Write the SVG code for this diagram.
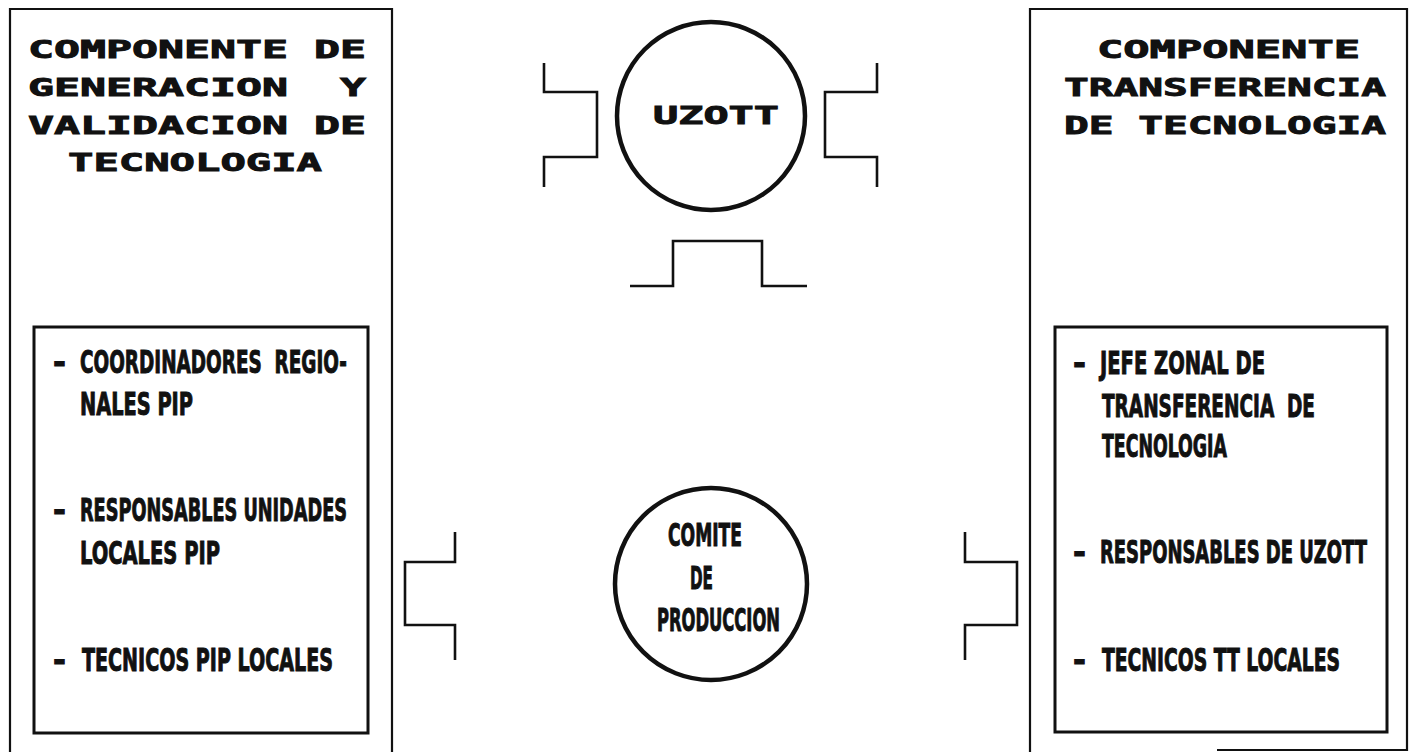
<svg xmlns="http://www.w3.org/2000/svg" width="1416" height="752" viewBox="0 0 1416 752">
<style>
.bg{fill:#fff}
.outer{fill:none;stroke:#111;stroke-width:2.2}
.inner{fill:none;stroke:#111;stroke-width:3}
.circ{fill:none;stroke:#111;stroke-width:4.5}
.conn{fill:none;stroke:#111;stroke-width:2.6}
.hd{font-family:"DejaVu Sans Mono","Liberation Mono",monospace;font-weight:bold;font-size:25px;fill:#111;stroke:#111;stroke-width:0.9;white-space:pre}
.bd{font-family:"Liberation Sans Narrow","DejaVu Sans Condensed","Liberation Sans",sans-serif;font-weight:bold;font-size:23px;fill:#111;stroke:#111;stroke-width:0.7;white-space:pre}
</style>
<rect class="bg" x="0" y="0" width="1416" height="752"/>
<g id="gen-validacion">
<path class="outer" d="M10,752 V9 H392 V752"/>
<text class="hd" x="28" y="58" textLength="338" lengthAdjust="spacingAndGlyphs">COMPONENTE DE</text>
<text class="hd" x="28" y="96" textLength="338" lengthAdjust="spacingAndGlyphs" xml:space="preserve">GENERACION  Y</text>
<text class="hd" x="28" y="134" textLength="338" lengthAdjust="spacingAndGlyphs">VALIDACION DE</text>
<text class="hd" x="68" y="171" textLength="254" lengthAdjust="spacingAndGlyphs">TECNOLOGIA</text>
</g>
<g id="gen-lista">
<rect class="inner" x="34" y="327" width="334" height="406"/>
<text class="bd" transform="translate(53,373) scale(1.5,1.39)">-</text>
<text class="bd" transform="translate(80,373) scale(1,1.39)" textLength="267" lengthAdjust="spacingAndGlyphs" xml:space="preserve">COORDINADORES  REGIO-</text>
<text class="bd" transform="translate(80,415) scale(1,1.39)" textLength="113" lengthAdjust="spacingAndGlyphs">NALES PIP</text>
<text class="bd" transform="translate(53,521) scale(1.5,1.39)">-</text>
<text class="bd" transform="translate(80,521) scale(1,1.39)" textLength="267" lengthAdjust="spacingAndGlyphs">RESPONSABLES UNIDADES</text>
<text class="bd" transform="translate(80,564) scale(1,1.39)" textLength="140" lengthAdjust="spacingAndGlyphs">LOCALES PIP</text>
<text class="bd" transform="translate(53,671) scale(1.5,1.39)">-</text>
<text class="bd" transform="translate(82,671) scale(1,1.39)" textLength="251" lengthAdjust="spacingAndGlyphs">TECNICOS PIP LOCALES</text>
</g>
<g id="transferencia">
<path class="outer" d="M1030,752 V9 H1407 V750 H1217"/>
<text class="hd" x="1097" y="58" textLength="263" lengthAdjust="spacingAndGlyphs">COMPONENTE</text>
<text class="hd" x="1064" y="96" textLength="322" lengthAdjust="spacingAndGlyphs">TRANSFERENCIA</text>
<text class="hd" x="1064" y="134" textLength="322" lengthAdjust="spacingAndGlyphs">DE TECNOLOGIA</text>
</g>
<g id="tt-lista">
<rect class="inner" x="1055" y="327" width="332" height="405"/>
<text class="bd" transform="translate(1073,374) scale(1.5,1.39)">-</text>
<text class="bd" transform="translate(1100,374) scale(1,1.39)" textLength="165" lengthAdjust="spacingAndGlyphs">JEFE ZONAL DE</text>
<text class="bd" transform="translate(1102,417) scale(1,1.39)" textLength="213" lengthAdjust="spacingAndGlyphs" xml:space="preserve">TRANSFERENCIA  DE</text>
<text class="bd" transform="translate(1102,457) scale(1,1.39)" textLength="125" lengthAdjust="spacingAndGlyphs">TECNOLOGIA</text>
<text class="bd" transform="translate(1073,563) scale(1.5,1.39)">-</text>
<text class="bd" transform="translate(1100,563) scale(1,1.39)" textLength="267" lengthAdjust="spacingAndGlyphs">RESPONSABLES DE UZOTT</text>
<text class="bd" transform="translate(1073,671) scale(1.5,1.39)">-</text>
<text class="bd" transform="translate(1102,671) scale(1,1.39)" textLength="238" lengthAdjust="spacingAndGlyphs">TECNICOS TT LOCALES</text>
</g>
<g id="uzott">
<circle class="circ" cx="711" cy="116" r="94"/>
<text class="hd" x="653" y="124" textLength="126" lengthAdjust="spacingAndGlyphs">UZOTT</text>
</g>
<g id="comite">
<ellipse class="circ" cx="711" cy="584" rx="96" ry="96"/>
<text class="bd" transform="translate(668,546) scale(1,1.39)" textLength="74" lengthAdjust="spacingAndGlyphs">COMITE</text>
<text class="bd" transform="translate(690,589) scale(1,1.39)" textLength="23" lengthAdjust="spacingAndGlyphs">DE</text>
<text class="bd" transform="translate(657,631) scale(1,1.39)" textLength="123" lengthAdjust="spacingAndGlyphs">PRODUCCION</text>
</g>
<g id="connectors">
<path class="conn" d="M544,63 V92 H597 V157 H544 V187"/>
<path class="conn" d="M877,63 V92 H825 V157 H877 V187"/>
<path class="conn" d="M630,286 H673 V241 H762 V286 H807"/>
<path class="conn" d="M455,532 V562 H405 V625 H455 V660"/>
<path class="conn" d="M965,532 V562 H1017 V625 H965 V660"/>
</g>
</svg>
